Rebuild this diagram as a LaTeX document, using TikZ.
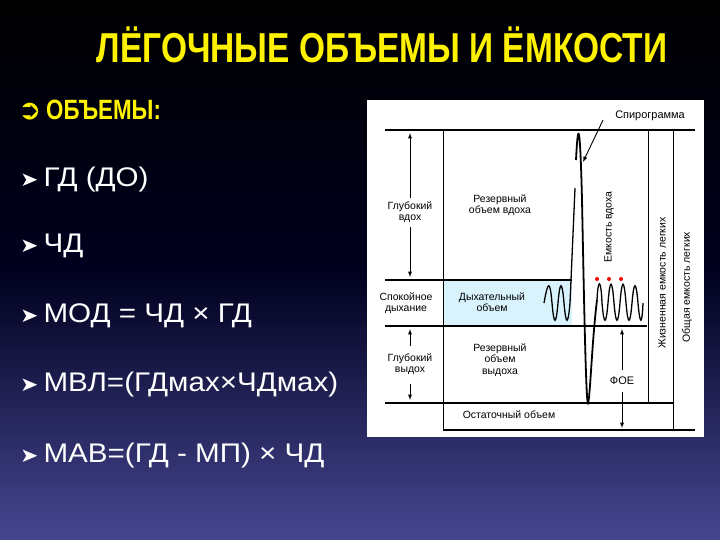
\documentclass[tikz,border=0pt]{standalone}
\usepackage{fontspec}
\setmainfont{Liberation Sans}
\newfontfamily\djv{DejaVu Sans}
\begin{document}
\begin{tikzpicture}[x=1bp,y=-1bp,
  lbl/.style={font=\fontsize{10.5}{11.5}\selectfont,align=center,inner sep=0pt},
  bul/.style={anchor=west,text=white,font=\fontsize{27}{30}\selectfont,inner sep=0pt,xscale=1.1},
  ln/.style={line width=1.1pt},
  arr/.style={line width=0.9pt,-latex}]
\shade[top color=black,bottom color=black!35!blue!45!gray,middle color=black!88!blue] (0,0) rectangle (720,540);
\useasboundingbox (0,0) rectangle (720,540);
\node[text=yellow,font=\bfseries\fontsize{42}{44}\selectfont,xscale=0.8] (title) at (382,45) {ЛЁГОЧНЫЕ ОБЪЕМЫ И ЁМКОСТИ};
\node[anchor=west,text=yellow,font=\fontsize{28}{30}\selectfont,inner sep=0pt] (h) at (18,110) {{\djv\bfseries ➲}\,\bfseries\scalebox{0.8}[1]{ОБЪЕМЫ:}};
\node[bul] (b1) at (20,180) {{\djv\fontsize{20}{20}\selectfont ➤}\,ГД (ДО)};
\node[bul] (b2) at (20,246) {{\djv\fontsize{20}{20}\selectfont ➤}\,ЧД};
\node[bul] (b3) at (20,316) {{\djv\fontsize{20}{20}\selectfont ➤}\,МОД = ЧД × ГД};
\node[bul] (b4) at (20,385) {{\djv\fontsize{20}{20}\selectfont ➤}\,МВЛ=(ГДмах×ЧДмах)};
\node[bul] (b5) at (20,456) {{\djv\fontsize{20}{20}\selectfont ➤}\,МАВ=(ГД - МП) × ЧД};
% diagram
\fill[white] (367,100) rectangle (704,437);
\fill[cyan!15] (443,280) rectangle (572,326);
\draw[ln] (385,130) -- (695,130);
\draw[ln] (385,280) -- (572,280);
\draw[ln] (385,326) -- (647,326);
\draw[ln] (385,403) -- (673,403);
\draw[ln] (443,430) -- (695,430);
\draw[line width=0.7pt] (443,130) -- (443,430);
\draw[line width=0.7pt] (648,130) -- (648,403);
\draw[line width=0.7pt] (673,130) -- (673,430);
% spirogram
\draw[line width=1.3pt] (544,303) .. controls (548,280) and (550,280) .. (552,303)
  .. controls (554,326) and (556,326) .. (558,303) .. controls (560,280) and (562,280) .. (564,303)
  .. controls (566,326) and (568,326) .. (570,303) -- (575,188);
\draw[line width=1.8pt] (576,160) .. controls (578,120) and (580,120) .. (582,200)
  .. controls (584,300) and (586,405) .. (588,403) .. controls (590,400) and (592,340) .. (597,300);
\draw[line width=1.3pt] (597,300) .. controls (598,278) and (601,278) .. (602,303)
  .. controls (604,326) and (606,326) .. (608,303) .. controls (610,278) and (612,278) .. (614,303)
  .. controls (616,326) and (618,326) .. (620,303) .. controls (622,278) and (624,278) .. (626,303)
  .. controls (628,326) and (630,326) .. (632,303) .. controls (634,280) and (636,280) .. (638,303)
  .. controls (640,326) and (642,326) .. (643,303);
\foreach \xx in {597,609,621} \fill[red] (\xx,279) circle (2);
% arrows
\draw[arr] (410,198) -- (410,133);
\draw[arr] (410,227) -- (410,277);
\draw[arr] (410,346) -- (410,329);
\draw[arr] (410,384) -- (410,400);
\draw[arr] (622,370) -- (622,329);
\draw[arr] (622,392) -- (622,428);
\coordinate (sp) at (583,162);
\node[lbl,font=\fontsize{11}{12}\selectfont] (spl) at (650,116) {Спирограмма};
\draw[arr] (603,120) -- (sp);
\node[lbl] (a1) at (410,212) {Глубокий\\вдох};
\node[lbl] (a2) at (406,303) {Спокойное\\дыхание};
\node[lbl] (a3) at (410,364) {Глубокий\\выдох};
\node[lbl] (a4) at (500,205) {Резервный\\объем вдоха};
\node[lbl] (a5) at (492,302) {Дыхательный\\объем};
\node[lbl] (a6) at (500,360) {Резервный\\объем\\выдоха};
\node[lbl] (a7) at (622,381) {\fontsize{11}{12}\selectfont ФОЕ};
\node[lbl] (a8) at (509,415) {Остаточный объем};
\node[lbl,rotate=90] (a9) at (609,227) {Емкость вдоха};
\node[lbl,rotate=90] (a10) at (662,283) {Жизненная емкость легких};
\node[lbl,rotate=90] (a11) at (687,287) {Общая емкость легких};
\end{tikzpicture}
\end{document}
